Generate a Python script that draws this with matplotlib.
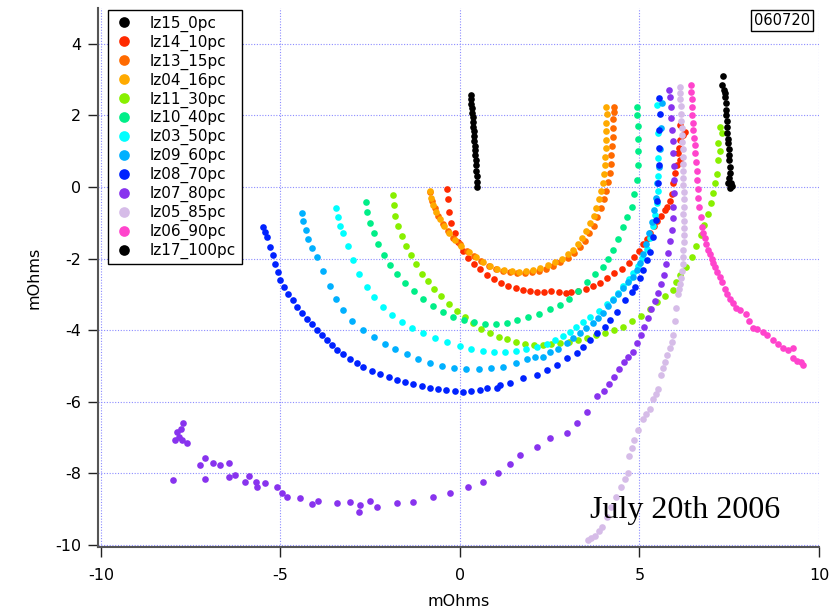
import numpy as np
import matplotlib
matplotlib.use("Agg")
import matplotlib.pyplot as plt

plt.rcParams["axes.unicode_minus"] = False

labels = ["lz15_0pc", "lz14_10pc", "lz13_15pc", "lz04_16pc", "lz11_30pc",
          "lz10_40pc", "lz03_50pc", "lz09_60pc", "lz08_70pc", "lz07_80pc",
          "lz05_85pc", "lz06_90pc", "lz17_100pc"]
colors = ["#000000", "#ff2a00", "#ff6a00", "#ffaa00", "#88f000", "#00ee88",
          "#00ffff", "#00b0ff", "#0022ff", "#8833ee", "#d6bce8", "#ff44cc",
          "#000000"]

lz15_x = [0.30, 0.31, 0.32, 0.33, 0.34, 0.35, 0.36, 0.37, 0.38, 0.39, 0.40, 0.41,
          0.42, 0.43, 0.44, 0.45, 0.46, 0.47, 0.47, 0.48]
lz15_y = [2.57, 2.45, 2.32, 2.20, 2.07, 1.95, 1.82, 1.68, 1.55, 1.42, 1.28, 1.15,
          1.02, 0.88, 0.75, 0.60, 0.45, 0.30, 0.15, 0.01]

lz14_x = [-0.36, -0.34, -0.30, -0.24, -0.15, -0.05, 0.08, 0.22, 0.38, 0.55,
          0.75, 0.95, 1.15, 1.35, 1.55, 1.75, 1.95, 2.15, 2.35, 2.55,
          2.75, 2.95, 3.10, 3.30, 3.50, 3.70, 3.90, 4.10, 4.30, 4.50,
          4.70, 4.85, 5.00, 5.10, 5.20, 5.30, 5.40, 5.50, 5.60, 5.70,
          5.77, 5.85, 5.90, 5.94, 5.99, 6.05, 6.13, 6.07, 6.10, 6.13,
          6.20, 6.27, 6.13]
lz14_y = [-0.05, -0.35, -0.70, -1.00, -1.30, -1.55, -1.78, -1.98, -2.15, -2.30,
          -2.45, -2.58, -2.68, -2.76, -2.83, -2.88, -2.90, -2.93, -2.93, -2.92,
          -2.94, -2.96, -2.93, -2.90, -2.84, -2.76, -2.68, -2.55, -2.40, -2.28,
          -2.12, -1.96, -1.78, -1.60, -1.45, -1.28, -1.10, -0.95, -0.80, -0.65,
          -0.56, -0.40, -0.20, 0.10, 0.40, 0.60, 0.75, 0.95, 1.10, 1.30,
          1.45, 1.54, 1.73]

lz13_x = [-0.82, -0.78, -0.70, -0.60, -0.48, -0.34, -0.18, 0.00, 0.20, 0.40,
          0.60, 0.80, 1.00, 1.20, 1.40, 1.60, 1.80, 2.00, 2.20, 2.40,
          2.60, 2.80, 3.00, 3.18, 3.34, 3.48, 3.60, 3.72, 3.82, 3.92,
          4.00, 4.07, 4.13, 4.17, 4.20, 4.22, 4.24, 4.25, 4.26, 4.27,
          4.28, 4.30]
lz13_y = [-0.15, -0.38, -0.60, -0.82, -1.03, -1.24, -1.43, -1.60, -1.78, -1.94,
          -2.08, -2.20, -2.29, -2.35, -2.39, -2.41, -2.41, -2.39, -2.35, -2.29,
          -2.21, -2.11, -1.98, -1.84, -1.68, -1.50, -1.30, -1.08, -0.85, -0.60,
          -0.35, -0.10, 0.15, 0.40, 0.65, 0.90, 1.15, 1.40, 1.65, 1.90,
          2.10, 2.22]

lz04_x = [-0.84, -0.80, -0.74, -0.66, -0.56, -0.44, -0.30, -0.14, 0.04, 0.24,
          0.44, 0.64, 0.84, 1.04, 1.24, 1.44, 1.64, 1.84, 2.04, 2.24,
          2.44, 2.64, 2.84, 3.00, 3.15, 3.28, 3.40, 3.52, 3.62, 3.72,
          3.80, 3.87, 3.93, 3.98, 4.01, 4.04, 4.05, 4.06, 4.07, 4.08,
          4.08, 4.09, 4.07]
lz04_y = [-0.10, -0.30, -0.50, -0.70, -0.90, -1.10, -1.30, -1.48, -1.65, -1.82,
          -1.97, -2.10, -2.20, -2.28, -2.33, -2.36, -2.37, -2.36, -2.32, -2.26,
          -2.18, -2.09, -2.00, -1.88, -1.75, -1.60, -1.42, -1.22, -1.02, -0.80,
          -0.58, -0.35, -0.12, 0.12, 0.36, 0.60, 0.84, 1.08, 1.32, 1.56,
          1.80, 2.04, 2.24]

lz11_x = [-1.87, -1.85, -1.80, -1.72, -1.62, -1.50, -1.37, -1.22, -1.06, -0.90,
          -0.72, -0.52, -0.30, -0.08, 0.14, 0.36, 0.60, 0.84, 1.08, 1.32,
          1.56, 1.80, 2.05, 2.30, 2.55, 2.80, 3.05, 3.30, 3.55, 3.80,
          4.05, 4.30, 4.55, 4.80, 5.05, 5.28, 5.50, 5.72, 5.92, 6.02,
          6.13, 6.30, 6.45, 6.58, 6.70, 6.80, 6.90, 6.98, 7.05, 7.10,
          7.16, 7.20, 7.24, 7.20, 7.30, 7.25]
lz11_y = [-0.22, -0.50, -0.80, -1.08, -1.36, -1.64, -1.90, -2.16, -2.42, -2.64,
          -2.86, -3.06, -3.28, -3.47, -3.64, -3.80, -3.96, -4.08, -4.18, -4.26,
          -4.33, -4.38, -4.41, -4.42, -4.40, -4.36, -4.32, -4.27, -4.21, -4.15,
          -4.07, -4.00, -3.90, -3.74, -3.60, -3.42, -3.22, -3.05, -2.88, -2.65,
          -2.45, -2.25, -1.95, -1.65, -1.35, -1.05, -0.75, -0.45, -0.17, 0.10,
          0.35, 0.75, 1.00, 1.22, 1.50, 1.68]

lz10_x = [-2.62, -2.58, -2.50, -2.40, -2.28, -2.12, -1.94, -1.75, -1.52, -1.28,
          -1.03, -0.76, -0.48, -0.20, 0.10, 0.40, 0.70, 1.00, 1.30, 1.60,
          1.90, 2.20, 2.50, 2.80, 3.05, 3.30, 3.54, 3.76, 3.98, 4.12,
          4.26, 4.40, 4.54, 4.66, 4.79, 4.86, 4.93, 4.95, 4.96, 4.97,
          4.95, 4.94, 4.93]
lz10_y = [-0.42, -0.70, -1.00, -1.30, -1.60, -1.90, -2.18, -2.42, -2.68, -2.92,
          -3.14, -3.34, -3.50, -3.62, -3.72, -3.78, -3.82, -3.82, -3.79, -3.73,
          -3.64, -3.54, -3.42, -3.30, -3.12, -2.90, -2.65, -2.44, -2.23, -2.00,
          -1.76, -1.45, -1.12, -0.84, -0.56, -0.20, 0.20, 0.60, 1.00, 1.35,
          1.70, 2.00, 2.24]

lz03_x = [-3.45, -3.40, -3.33, -3.25, -3.12, -2.98, -2.80, -2.60, -2.38, -2.14,
          -1.90, -1.62, -1.33, -1.03, -0.70, -0.35, 0.00, 0.32, 0.64, 0.95,
          1.25, 1.55, 1.85, 2.15, 2.42, 2.65, 2.86, 3.06, 3.24, 3.44,
          3.62, 3.86, 4.09, 4.25, 4.40, 4.54, 4.70, 4.82, 4.95, 5.08,
          5.20, 5.30, 5.38, 5.44, 5.48, 5.51, 5.52, 5.53, 5.52, 5.50]
lz03_y = [-0.59, -0.85, -1.10, -1.29, -1.66, -2.04, -2.42, -2.79, -3.08, -3.35,
          -3.58, -3.78, -3.94, -4.08, -4.22, -4.34, -4.44, -4.52, -4.58, -4.62,
          -4.62, -4.58, -4.52, -4.46, -4.38, -4.28, -4.16, -4.05, -3.92, -3.78,
          -3.62, -3.46, -3.28, -3.12, -2.96, -2.78, -2.58, -2.40, -2.20, -1.98,
          -1.72, -1.42, -1.10, -0.78, -0.45, -0.10, 0.30, 0.80, 1.50, 2.30]

lz09_x = [-4.41, -4.36, -4.30, -4.22, -4.12, -3.99, -3.82, -3.62, -3.44, -3.26,
          -3.00, -2.70, -2.40, -2.10, -1.80, -1.48, -1.16, -0.84, -0.50, -0.16,
          0.18, 0.52, 0.86, 1.20, 1.55, 1.87, 2.10, 2.31, 2.52, 2.72,
          2.98, 3.16, 3.34, 3.52, 3.70, 3.84, 3.98, 4.12, 4.26, 4.40,
          4.54, 4.68, 4.82, 4.92, 5.01, 5.10, 5.18, 5.26, 5.34, 5.40,
          5.45, 5.50, 5.55, 5.58, 5.60, 5.62]
lz09_y = [-0.73, -0.95, -1.20, -1.45, -1.70, -1.95, -2.36, -2.78, -3.12, -3.44,
          -3.74, -4.00, -4.20, -4.38, -4.52, -4.66, -4.80, -4.91, -4.99, -5.05,
          -5.08, -5.08, -5.06, -5.03, -4.92, -4.80, -4.76, -4.74, -4.62, -4.52,
          -4.36, -4.22, -4.08, -3.94, -3.80, -3.66, -3.52, -3.34, -3.16, -2.99,
          -2.82, -2.66, -2.51, -2.32, -2.12, -1.88, -1.60, -1.30, -0.98, -0.65,
          -0.30, 0.10, 0.55, 1.05, 1.65, 2.35]

lz08_x = [-5.49, -5.42, -5.36, -5.29, -5.22, -5.15, -5.08, -5.01, -4.90, -4.78,
          -4.66, -4.54, -4.40, -4.27, -4.12, -3.98, -3.84, -3.70, -3.56, -3.43,
          -3.25, -3.06, -2.88, -2.70, -2.46, -2.22, -1.98, -1.75, -1.52, -1.30,
          -1.07, -0.84, -0.61, -0.38, -0.15, 0.08, 0.31, 0.55, 0.74, 1.03,
          1.11, 1.40, 1.75, 2.14, 2.42, 2.70, 2.98, 3.26, 3.43, 3.62,
          3.82, 4.04, 4.18, 4.37, 4.60, 4.79, 4.87, 5.01, 5.10, 5.21,
          5.29, 5.38, 5.45, 5.50, 5.52, 5.54, 5.55, 5.55, 5.56, 5.55]
lz08_y = [-1.12, -1.26, -1.40, -1.68, -1.90, -2.14, -2.38, -2.60, -2.80, -2.98,
          -3.16, -3.35, -3.52, -3.68, -3.84, -4.00, -4.14, -4.28, -4.42, -4.55,
          -4.68, -4.80, -4.92, -5.03, -5.13, -5.22, -5.31, -5.39, -5.45, -5.51,
          -5.56, -5.61, -5.65, -5.68, -5.71, -5.73, -5.71, -5.68, -5.62, -5.61,
          -5.53, -5.48, -5.34, -5.25, -5.11, -4.97, -4.78, -4.64, -4.47, -4.28,
          -4.08, -3.91, -3.72, -3.49, -3.16, -2.93, -2.79, -2.54, -2.32, -2.04,
          -1.82, -1.40, -0.92, -0.40, 0.10, 0.60, 1.10, 1.60, 2.05, 2.49]

lz07_x = [-7.72, -7.78, -7.88, -7.94, -7.83, -7.74, -7.60, -7.99, -7.24, -7.10,
          -6.88, -6.69, -7.10, -6.43, -6.43, -6.27, -5.99, -5.88, -5.68, -5.65,
          -5.43, -5.10, -4.96, -4.82, -4.46, -4.12, -3.96, -3.43, -3.06, -2.79,
          -2.81, -2.51, -2.31, -1.75, -1.31, -0.75, -0.28, 0.22, 0.64, 1.06,
          1.40, 1.67, 2.14, 2.50, 2.97, 3.26, 3.54, 3.82, 4.01,
          4.15, 4.29, 4.43, 4.57, 4.69, 4.81, 4.93, 5.04, 5.14, 5.24,
          5.33, 5.42, 5.52, 5.61, 5.68, 5.74, 5.80, 5.85, 5.90, 5.92,
          5.94, 5.95, 5.96, 5.95, 5.94, 5.92, 5.90, 5.89, 5.88, 5.85, 5.83]
lz07_y = [-6.59, -6.75, -6.84, -7.07, -7.00, -7.07, -7.15, -8.18, -7.77, -7.57,
          -7.71, -7.77, -8.16, -7.71, -8.10, -8.04, -8.24, -8.07, -8.24, -8.38,
          -8.27, -8.38, -8.55, -8.66, -8.69, -8.85, -8.77, -8.83, -8.80, -8.88,
          -9.08, -8.77, -8.94, -8.83, -8.80, -8.66, -8.55, -8.38, -8.24, -7.99,
          -7.75, -7.49, -7.26, -7.01, -6.87, -6.60, -6.30, -5.83, -5.69,
          -5.50, -5.31, -5.10, -4.89, -4.75, -4.60, -4.37, -4.13, -3.90, -3.66,
          -3.42, -3.18, -2.95, -2.71, -2.45, -2.15, -1.84, -1.52, -1.20, -0.88,
          -0.56, -0.18, 0.20, 0.58, 0.95, 1.28, 1.59, 1.92, 2.24, 2.50, 2.71]

lz05_x = [3.57, 3.66, 3.76, 3.86, 3.95, 4.09, 4.20, 4.35, 4.49, 4.60,
          4.67, 4.71, 4.78, 4.85, 4.97, 5.09, 5.18, 5.28, 5.38, 5.45,
          5.52, 5.60, 5.66, 5.71, 5.78, 5.85, 5.90, 5.93, 5.99, 6.03,
          6.07, 6.10, 6.12, 6.17, 6.18, 6.20, 6.21, 6.22, 6.23, 6.25,
          6.24, 6.23, 6.22, 6.24, 6.24, 6.23, 6.22, 6.22, 6.21, 6.21,
          6.20, 6.20, 6.19, 6.18, 6.18, 6.17, 6.16, 6.15, 6.14, 6.13, 6.13]
lz05_y = [-9.86, -9.80, -9.75, -9.62, -9.50, -9.22, -8.95, -8.66, -8.38, -8.15,
          -7.99, -7.52, -7.30, -7.07, -6.78, -6.48, -6.34, -6.20, -5.92, -5.78,
          -5.64, -5.25, -5.06, -4.89, -4.70, -4.50, -4.32, -4.13, -3.74, -3.38,
          -2.99, -2.85, -2.70, -2.55, -2.35, -2.15, -1.95, -1.75, -1.55, -1.35,
          -1.15, -0.95, -0.75, -0.55, -0.35, -0.15, 0.05, 0.25, 0.45, 0.65,
          0.85, 1.05, 1.25, 1.45, 1.65, 1.85, 2.05, 2.25, 2.45, 2.62, 2.80]

lz06_x = [6.43, 6.44, 6.45, 6.46, 6.47, 6.49, 6.50, 6.52, 6.55, 6.56,
          6.57, 6.59, 6.60, 6.62, 6.64, 6.67, 6.70, 6.73, 6.77, 6.82,
          6.86, 6.91, 6.96, 7.01, 7.06, 7.11, 7.17, 7.24, 7.30, 7.38,
          7.45, 7.52, 7.60, 7.68, 7.80, 7.96, 8.05, 8.15, 8.28, 8.43,
          8.55, 8.71, 8.85, 9.00, 9.15, 9.28, 9.28, 9.40, 9.55, 9.50]
lz06_y = [2.85, 2.65, 2.45, 2.24, 2.02, 1.80, 1.59, 1.38, 1.17, 0.95,
          0.70, 0.45, 0.20, -0.05, -0.30, -0.56, -0.84, -1.12, -1.28, -1.44,
          -1.60, -1.75, -1.88, -2.00, -2.12, -2.24, -2.38, -2.52, -2.65, -2.85,
          -3.00, -3.12, -3.25, -3.38, -3.45, -3.56, -3.75, -3.94, -3.98, -4.04,
          -4.15, -4.27, -4.38, -4.50, -4.55, -4.50, -4.79, -4.85, -4.97, -4.90]

lz17_x = [7.34, 7.31, 7.36, 7.38, 7.39, 7.40, 7.41, 7.42, 7.43, 7.45, 7.45, 7.46,
          7.47, 7.48, 7.50, 7.50, 7.51, 7.52, 7.50, 7.47, 7.55, 7.52, 7.58]
lz17_y = [3.10, 2.85, 2.72, 2.62, 2.50, 2.35, 2.15, 2.00, 1.85, 1.68, 1.50, 1.35,
          1.22, 1.05, 0.90, 0.75, 0.55, 0.39, 0.25, 0.11, 0.10, -0.03, 0.02]

series_x = [lz15_x, lz14_x, lz13_x, lz04_x, lz11_x, lz10_x, lz03_x, lz09_x,
            lz08_x, lz07_x, lz05_x, lz06_x, lz17_x]
series_y = [lz15_y, lz14_y, lz13_y, lz04_y, lz11_y, lz10_y, lz03_y, lz09_y,
            lz08_y, lz07_y, lz05_y, lz06_y, lz17_y]

# --- figure ---
fig = plt.figure(figsize=(8.38, 6.13), dpi=100)
ax = fig.add_axes([98 / 838, 1 - 547 / 613, 721 / 838, 539 / 613])

for xs, ys, c, lab in zip(series_x, series_y, colors, labels):
    ax.plot(xs, ys, linestyle="none", marker="o", ms=4.8, mew=0,
            color=c, label=lab)

ax.set_xlim(-10.08, 10.0)
ax.set_ylim(-10.06, 5.0)
ax.set_xticks([-10, -5, 0, 5, 10])
ax.set_yticks([-10, -8, -6, -4, -2, 0, 2, 4])
ax.grid(True, color="#8c8cff", linestyle=(0, (1, 1.5)), linewidth=0.8)
ax.set_axisbelow(True)

for side in ["top", "right"]:
    ax.spines[side].set_visible(False)
for side in ["left", "bottom"]:
    ax.spines[side].set_color("#555555")
    ax.spines[side].set_linewidth(1.5)
ax.tick_params(direction="out", length=7, width=1, color="#222222",
               labelsize=11.5)
ax.tick_params(axis="x", pad=8)
ax.tick_params(axis="y", pad=5)

ax.set_xlabel("mOhms", fontsize=11.5, labelpad=8)
ax.set_ylabel("mOhms", fontsize=11.5, labelpad=10)

leg = ax.legend(loc="upper left", bbox_to_anchor=(0.0139, 0.996),
                fontsize=11, frameon=True, fancybox=False, framealpha=1,
                edgecolor="black", handlelength=1.4, handletextpad=1.0,
                labelspacing=0.18, borderpad=0.35, markerscale=1.6,
                borderaxespad=0)
leg.get_frame().set_linewidth(1.0)

ax.text(0.9875, 0.991, "060720", transform=ax.transAxes, ha="right",
        va="top", fontsize=10.5,
        bbox=dict(boxstyle="square,pad=0.2", fc="white", ec="black", lw=1))

ax.text(6.27, -9.25, "July 20th 2006", fontsize=23, family="Liberation Serif",
        ha="center", va="baseline")

fig.savefig("out.png", dpi=100)
